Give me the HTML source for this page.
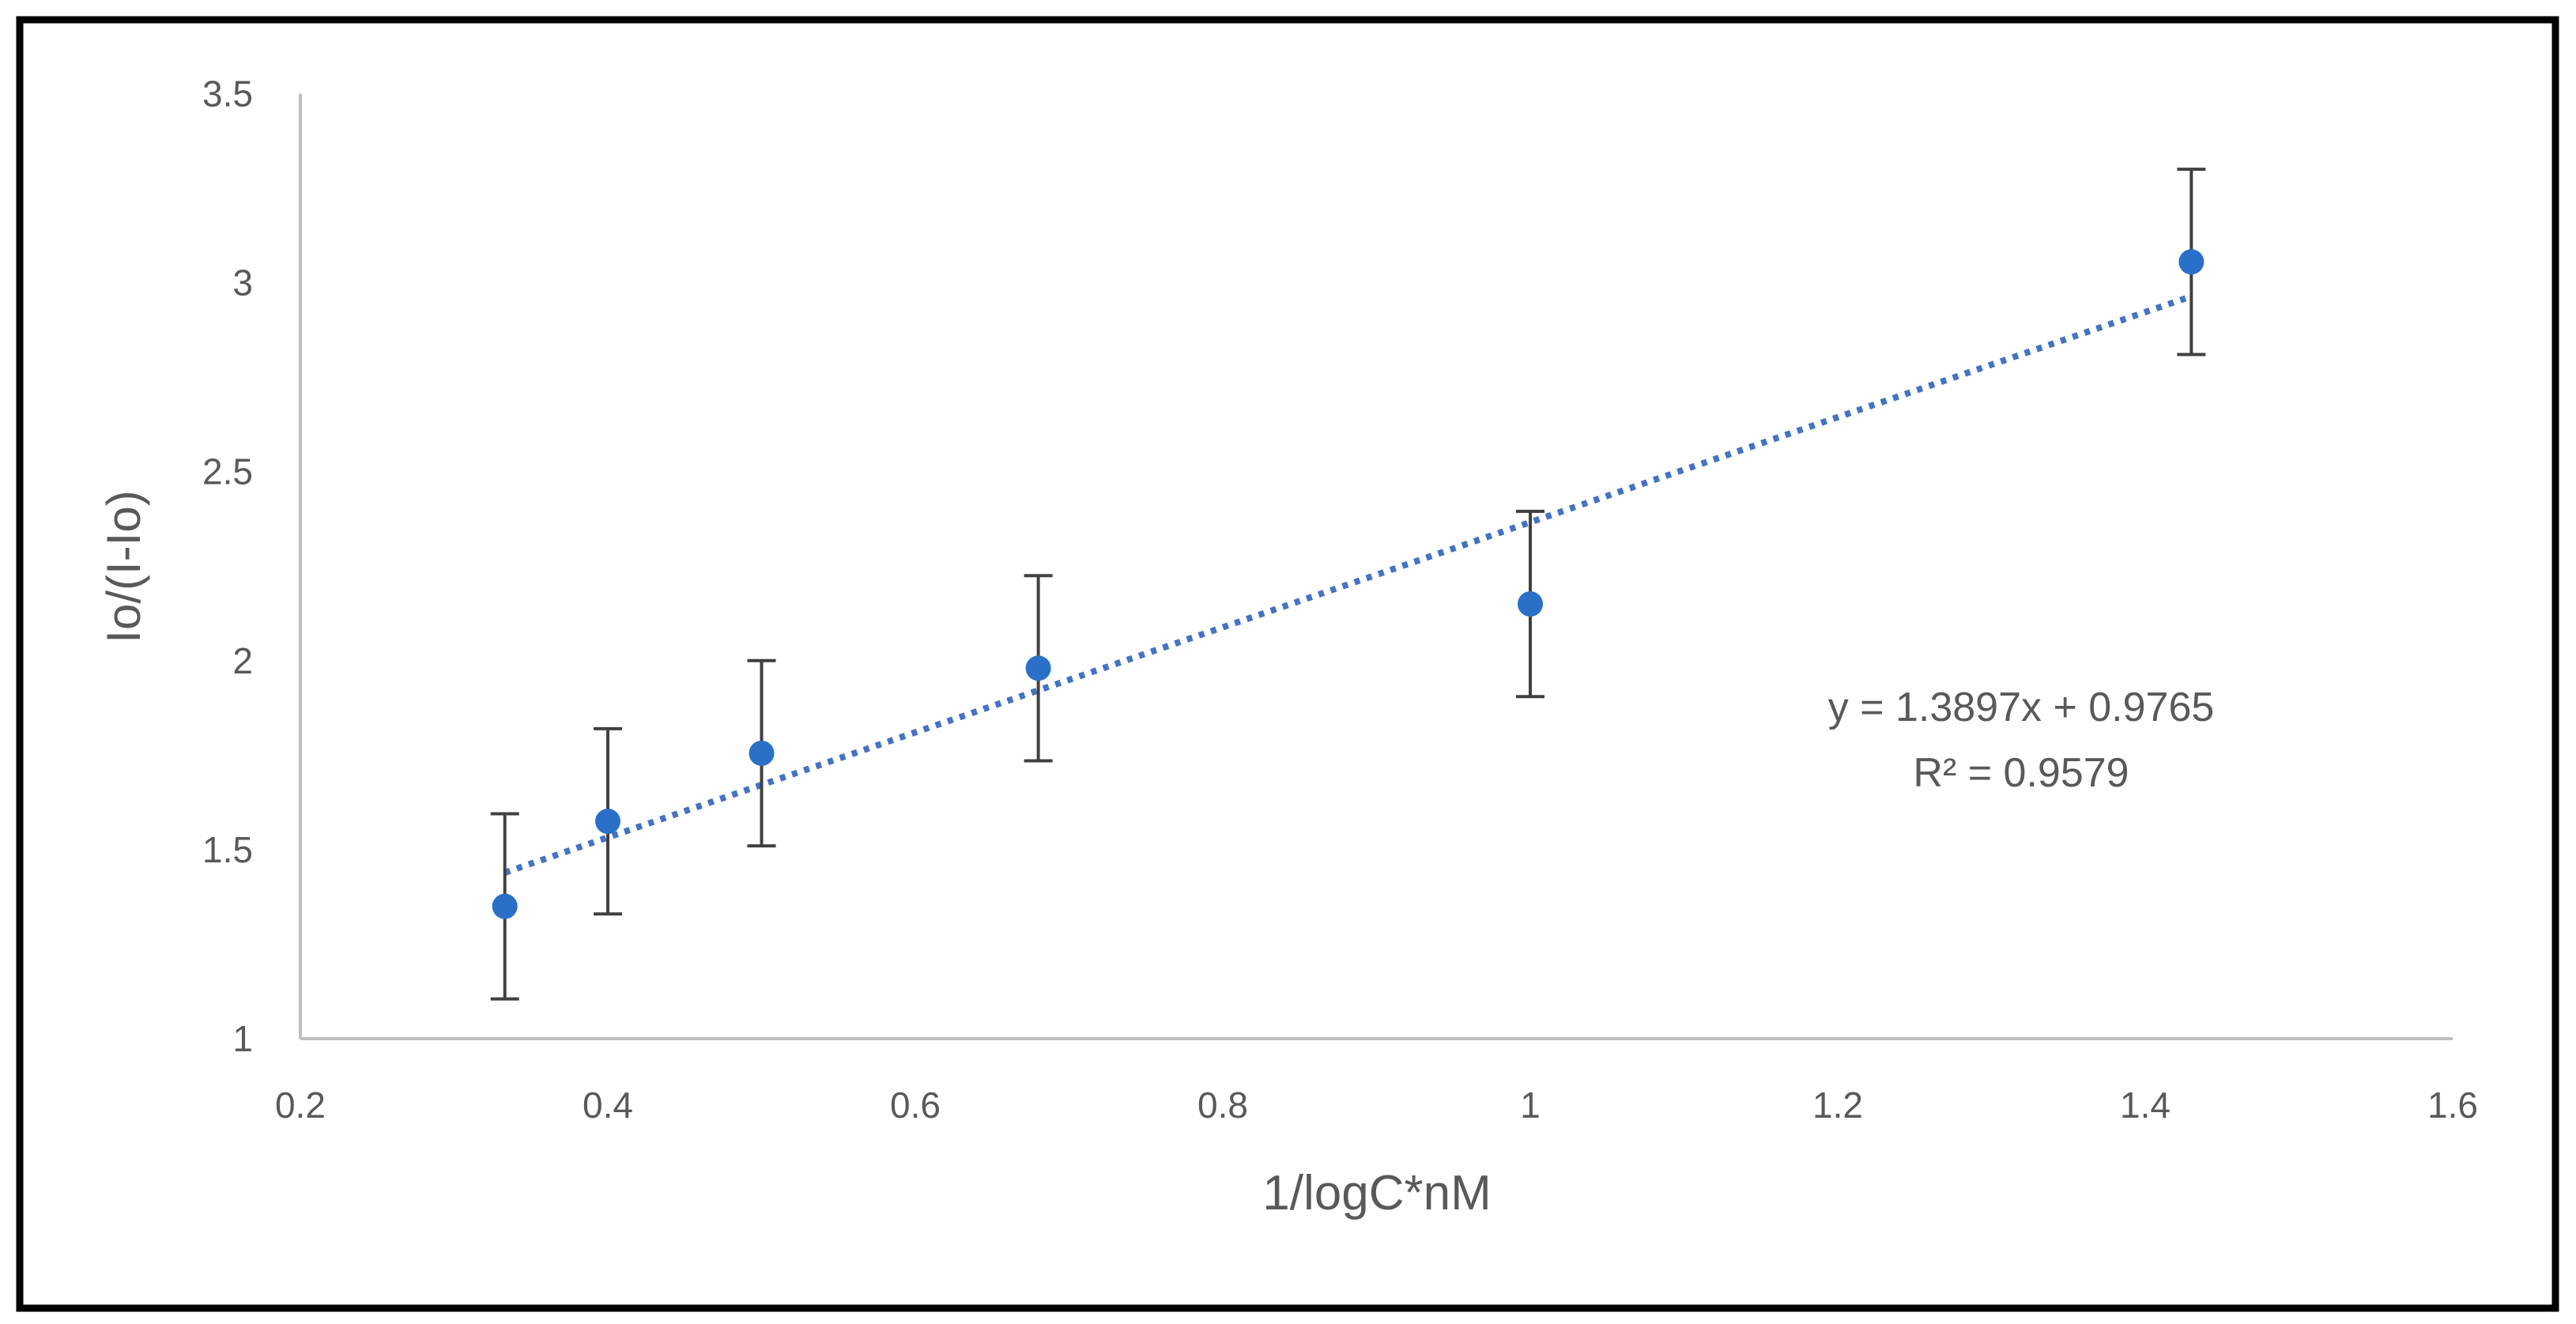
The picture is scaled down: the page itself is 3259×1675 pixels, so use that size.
<!DOCTYPE html>
<html><head><meta charset="utf-8"><style>
html,body{margin:0;padding:0;background:#fff;}
svg{display:block;}
text{font-family:"Liberation Sans",sans-serif;}
</style></head><body>
<svg id="chart" width="3259" height="1675" viewBox="0 0 3259 1675">
<rect x="0" y="0" width="3259" height="1675" fill="#fff"/>
<rect x="25" y="25" width="3208" height="1630" fill="none" stroke="#000" stroke-width="9"/>
<g id="axes"></g>
<g id="marks"></g>
<text x="177" y="717" font-size="60" fill="#595959" text-anchor="middle" transform="rotate(-90 177 717)">Io/(I-Io)</text>
<text x="1742" y="1530" font-size="62" fill="#595959" text-anchor="middle">1/logC*nM</text>
<text x="2557" y="912" font-size="52" fill="#595959" text-anchor="middle">y = 1.3897x  + 0.9765</text>
<text x="2557" y="995" font-size="52" fill="#595959" text-anchor="middle">R² = 0.9579</text>
</svg>
<script>
const xTicks=[0.2,0.4,0.6,0.8,1,1.2,1.4,1.6];
const yTicks=[1,1.5,2,2.5,3,3.5];
const xValues=[0.333,0.4,0.5,0.68,1.0,1.43];
const yValues=[1.35,1.575,1.755,1.98,2.15,3.055];
const yErrors=[0.245,0.245,0.245,0.245,0.245,0.245];
const slope=1.3897, intercept=0.9765;

const X0=380,X1=3103,Y0=1314,Y1=118.5;
const xs=v=>X0+(v-0.2)/(1.4)*(X1-X0);
const ys=v=>Y0-(v-1)/(2.5)*(Y0-Y1);
const NS='http://www.w3.org/2000/svg';
const axes=document.getElementById('axes'), marks=document.getElementById('marks');
function mk(tag,attrs,parent){const e=document.createElementNS(NS,tag);for(const k in attrs)e.setAttribute(k,attrs[k]);parent.appendChild(e);return e;}

let l=mk('line',{x1:X0,y1:Y1,x2:X0,y2:Y0,stroke:'#bfbfbf','stroke-width':4},axes);


l=mk('line',{x1:X0,y1:Y0,x2:X1,y2:Y0,stroke:'#bfbfbf','stroke-width':4},axes);



xTicks.forEach(t=>{const e=mk('text',{x:xs(t),y:Y0+100,'font-size':46,fill:'#595959','text-anchor':'middle'},axes);e.textContent=String(t);

});
yTicks.forEach(t=>{const e=mk('text',{x:X0-60,y:ys(t)+16,'font-size':46,fill:'#595959','text-anchor':'end'},axes);e.textContent=String(t);

});

const xa=xValues[0], xb=xValues[xValues.length-1];
const tl=mk('line',{x1:xs(xa),y1:ys(slope*xa+intercept),x2:xs(xb),y2:ys(slope*xb+intercept),stroke:'#4472c4','stroke-width':8,'stroke-dasharray':'7 9'},marks);



xValues.forEach((xv,i)=>{
  const cx=xs(xv), top=ys(yValues[i]+yErrors[i]), bot=ys(yValues[i]-yErrors[i]);
  const g=mk('g',{},marks);
  
  
  mk('line',{x1:cx,y1:top,x2:cx,y2:bot,stroke:'#404040','stroke-width':4},g);
  mk('line',{x1:cx-18,y1:top,x2:cx+18,y2:top,stroke:'#404040','stroke-width':4},g);
  mk('line',{x1:cx-18,y1:bot,x2:cx+18,y2:bot,stroke:'#404040','stroke-width':4},g);
});
xValues.forEach((xv,i)=>{
  const c=mk('circle',{cx:xs(xv),cy:ys(yValues[i]),r:16,fill:'#2a70c8'},marks);
  
  
});
</script>
</body></html>
